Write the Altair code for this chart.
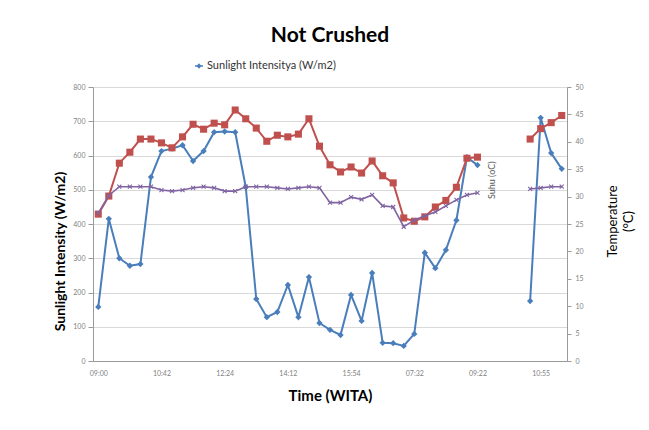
import altair as alt
import pandas as pd

# ---- data ----
time_labels = ["09:00", "10:42", "12:24", "14:12", "15:54", "07:32", "09:22", "10:55"]
label_idx = [0, 6, 12, 18, 24, 30, 36, 42]

sunlight = [158, 415, 300, 278, 283, 537, 613, 620, 630, 584,
            613, 668, 670, 668, 508, 181, 128, 143, 222, 128,
            245, 111, 91, 76, 193, 117, 257, 53, 52, 44,
            79, 316, 271, 324, 411, 595, 572, None, None, None,
            None, 175, 710, 607, 561]
temp_red = [26.8, 30.1, 36.1, 38.1, 40.5, 40.5, 39.8, 38.9, 40.9, 43.2,
            42.3, 43.4, 43.1, 45.8, 44.2, 42.5, 40.1, 41.2, 40.9, 41.4,
            44.2, 39.2, 35.8, 34.5, 35.4, 34.3, 36.5, 33.8, 32.5, 26.1,
            25.5, 26.3, 28.1, 29.3, 31.7, 37.0, 37.2, None, None, None,
            None, 40.5, 42.4, 43.5, 44.8]
temp_purple = [27.0, 30.2, 31.8, 31.8, 31.8, 31.8, 31.2, 31.0, 31.2, 31.6,
               31.8, 31.6, 31.0, 31.0, 31.8, 31.8, 31.8, 31.6, 31.4, 31.6,
               31.8, 31.6, 28.9, 28.9, 29.9, 29.5, 30.3, 28.3, 28.1, 24.5,
               25.7, 26.5, 27.2, 28.3, 29.4, 30.3, 30.7, None, None, None,
               None, 31.4, 31.6, 31.8, 31.8]
series_name = "Sunlight Intensitya (W/m2)"

# stray axis caption visible inside the plot of the reference
stray_text = ["Suhu (oC)"]
stray_idx = [37.4]
stray_temp = [33.0]

df = pd.DataFrame({
    "idx": list(range(len(sunlight))),
    "sun": sunlight,
    "red": temp_red,
    "purple": temp_purple,
    "series": [series_name] * len(sunlight),
})
df_stray = pd.DataFrame({"idx": stray_idx, "temp": stray_temp, "txt": stray_text})

FONT = "Lato"
BLUE = "#4a7ebb"
RED = "#c0504d"
PURPLE = "#8064a2"
AX = "#9a9a9a"

label_expr = "[" + ",".join("'%s'" % t for t in time_labels) + "][datum.value / 6]"

x_enc = alt.X("idx:Q",
              scale=alt.Scale(domain=[-0.5, 44.5], nice=False, zero=False),
              axis=alt.Axis(values=label_idx, labelExpr=label_expr, ticks=False,
                            grid=False, labelPadding=8, labelFontSize=7,
                            labelColor="#7f7f7f", labelFont=FONT,
                            domainColor=AX,
                            title="Time (WITA)", titleFont=FONT, titleFontSize=15,
                            titleFontWeight="bold", titleColor="#000",
                            titleX=237, titleY=34, titleBaseline="middle"))

base = alt.Chart(df)

y_left = alt.Y("sun:Q",
               scale=alt.Scale(domain=[0, 800], nice=False),
               axis=alt.Axis(values=list(range(0, 801, 100)), grid=True,
                             gridColor="#d9d9d9", domainColor=AX, tickColor=AX,
                             tickSize=5, labelFontSize=7, labelColor="#7f7f7f",
                             labelFont=FONT, labelPadding=3,
                             title="Sunlight Intensity (W/m2)", titleFont=FONT,
                             titleFontSize=14, titleFontWeight="bold",
                             titleColor="#000", titleAngle=270,
                             titleX=-33, titleY=164, titleBaseline="middle"))

blue_line = base.mark_line(color=BLUE, strokeWidth=2).encode(x=x_enc, y=y_left)
blue_pts = base.mark_point(shape="diamond", filled=True, size=40, opacity=1).encode(
    x=x_enc, y=y_left,
    color=alt.Color("series:N",
                    scale=alt.Scale(domain=[series_name], range=[BLUE]),
                    legend=alt.Legend(title=None, orient="none", legendX=100, legendY=-27,
                                      direction="horizontal", labelFont=FONT,
                                      labelFontSize=11, labelColor="#333",
                                      symbolType="M-0.8,0H0.8M0,-0.3L0.3,0L0,0.3L-0.3,0Z",
                                      symbolSize=100, symbolStrokeColor=BLUE,
                                      symbolFillColor=BLUE, symbolStrokeWidth=1.6,
                                      labelOffset=2)))

y_right_axis = alt.Axis(orient="right", values=list(range(0, 51, 5)), grid=False,
                        domainColor=AX, tickColor=AX, tickSize=4, labelFontSize=7,
                        labelColor="#7f7f7f", labelFont=FONT, labelPadding=4,
                        title=["Temperature", "(°C)"], titleFont=FONT,
                        titleFontSize=13, titleFontWeight="normal", titleColor="#000",
                        titleAngle=270, titleX=45, titleY=134, titleBaseline="middle",
                        titleLineHeight=16)
rscale = alt.Scale(domain=[0, 50], nice=False)
y_red = alt.Y("red:Q", scale=rscale, axis=y_right_axis)
y_purple = alt.Y("purple:Q", scale=rscale, axis=y_right_axis)

red_line = base.mark_line(color=RED, strokeWidth=2).encode(x=x_enc, y=y_red)
red_pts = base.mark_point(shape="square", filled=True, size=50, opacity=1,
                          color=RED).encode(x=x_enc, y=y_red)
purple_line = base.mark_line(color=PURPLE, strokeWidth=1.6).encode(x=x_enc, y=y_purple)
purple_pts = base.mark_point(shape="M-1,-1L1,1M1,-1L-1,1", filled=False, size=16,
                             strokeWidth=1.1, opacity=1, color=PURPLE).encode(x=x_enc, y=y_purple)
stray = alt.Chart(df_stray).mark_text(angle=270, font=FONT, fontSize=9,
                                      color="#595959", baseline="middle",
                                      align="center").encode(
    x=x_enc, y=alt.Y("temp:Q", scale=rscale, axis=y_right_axis), text="txt:N")

left = alt.layer(blue_line, blue_pts)
right = alt.layer(red_line, red_pts, purple_line, purple_pts, stray).resolve_scale(y="shared")

chart = alt.layer(left, right).resolve_scale(y="independent").properties(
    width=474, height=274,
    autosize=alt.AutoSizeParams(type="none"),
    padding={"left": 85, "top": 79, "right": 74, "bottom": 61},
    title=alt.TitleParams("Not Crushed", font=FONT, fontSize=21, fontWeight="bold",
                          color="#000", anchor="middle", frame="group", offset=14),
).configure_view(strokeWidth=0).configure(background="white")

chart.save("out.html", embed_options={"renderer": "svg", "actions": False})
